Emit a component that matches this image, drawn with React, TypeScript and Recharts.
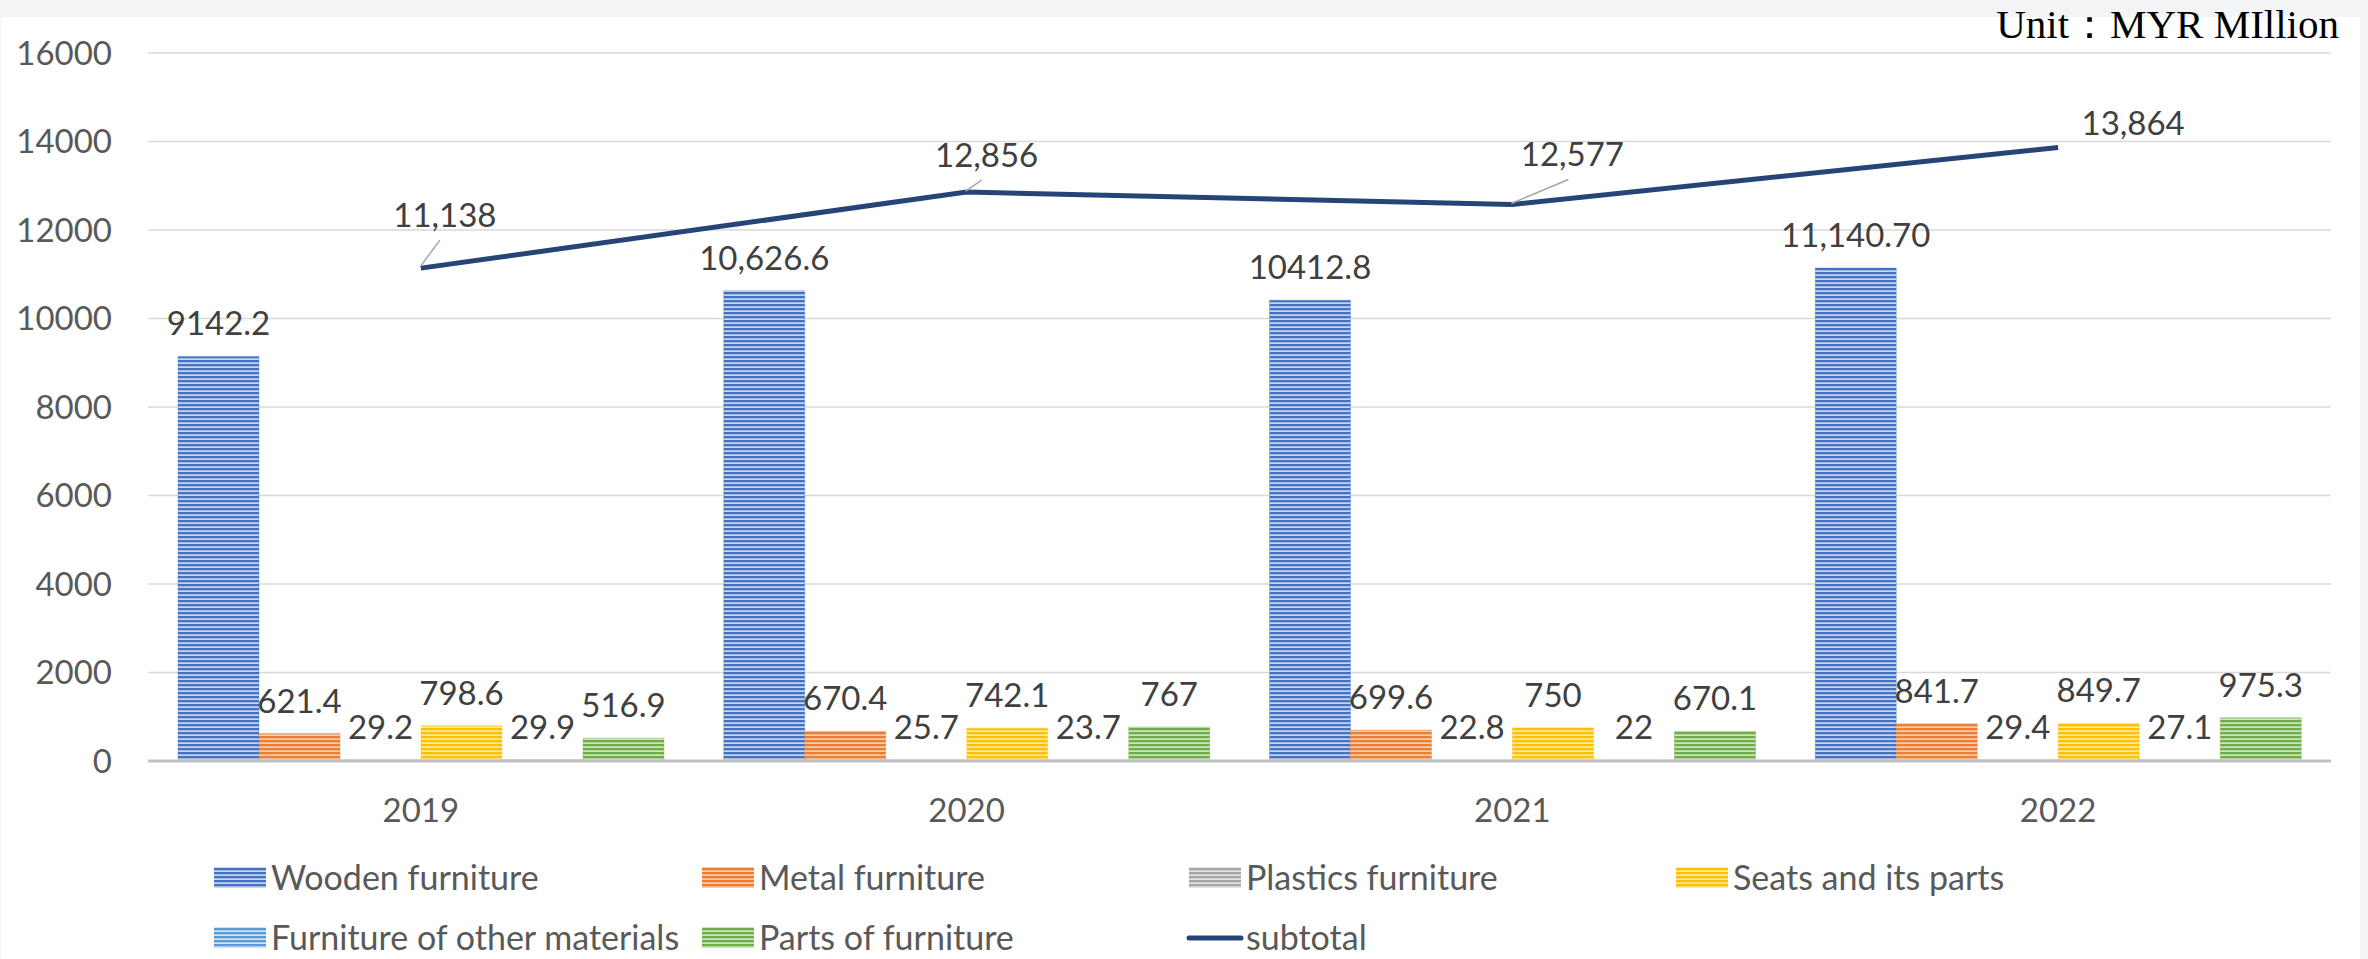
import React from "react";
import {
  ComposedChart,
  Bar,
  Line,
  XAxis,
  YAxis,
  CartesianGrid,
  LabelList,
} from "recharts";

const years = ["2019", "2020", "2021", "2022"];
const wooden = [9142.2, 10626.6, 10412.8, 11140.7];
const woodenLabels = ["9142.2", "10,626.6", "10412.8", "11,140.70"];
const metal = [621.4, 670.4, 699.6, 841.7];
const plastics = [29.2, 25.7, 22.8, 29.4];
const seats = [798.6, 742.1, 750, 849.7];
const otherMaterials = [29.9, 23.7, 22, 27.1];
const parts = [516.9, 767, 670.1, 975.3];
const subtotal = [11138, 12856, 12577, 13864];
const subtotalLabels = ["11,138", "12,856", "12,577", "13,864"];
const yTicks = [0, 2000, 4000, 6000, 8000, 10000, 12000, 14000, 16000];

const data = years.map((year, i) => ({
  year,
  wooden: wooden[i],
  woodenLabel: woodenLabels[i],
  metal: metal[i],
  plastics: plastics[i],
  seats: seats[i],
  otherMaterials: otherMaterials[i],
  parts: parts[i],
  subtotal: subtotal[i],
  subtotalLabel: subtotalLabels[i],
}));

const series = [
  { key: "wooden", name: "Wooden furniture", dark: "#4472C4", light: "#c9d6ef" },
  { key: "metal", name: "Metal furniture", dark: "#ED7D31", light: "#f9cdb0" },
  { key: "plastics", name: "Plastics furniture", dark: "#A5A5A5", light: "#e2e2e2" },
  { key: "seats", name: "Seats and its parts", dark: "#FFC000", light: "#ffe9a3" },
  { key: "otherMaterials", name: "Furniture of other materials", dark: "#5B9BD5", light: "#d0e2f3" },
  { key: "parts", name: "Parts of furniture", dark: "#70AD47", light: "#cfe5c1" },
];

const FONT = "Lato, 'Open Sans', sans-serif";
const LINE_COLOR = "#264478";
const LABEL_SIZE = 33;

// label placement for the subtotal line (relative to the point)
const lineLabelOffsets = [
  { dx: 24, dy: -53, lx: 19, ly: -28, leader: true },
  { dx: 20, dy: -37, lx: 15, ly: -12, leader: true },
  { dx: 60, dy: -50, lx: 56, ly: -25, leader: true },
  { dx: 75, dy: -25, lx: 0, ly: 0, leader: false },
];

const Patterns = ({ prefix }: { prefix: string }) => (
  <defs>
    {series.map((s) => (
      <pattern
        key={s.key}
        id={`${prefix}-${s.key}`}
        patternUnits="userSpaceOnUse"
        width={8}
        height={4}
      >
        <rect x={0} y={0} width={8} height={4} fill={s.light} />
        <rect x={0} y={0} width={8} height={2.3} fill={s.dark} />
      </pattern>
    ))}
  </defs>
);

const LineLabel = (props: any) => {
  const { x, y, index, value } = props;
  const o = lineLabelOffsets[index] || { dx: 0, dy: -20, lx: 0, ly: 0, leader: false };
  return (
    <g>
      {o.leader && (
        <line
          x1={x - 1}
          y1={y - 1}
          x2={x + o.lx}
          y2={y + o.ly}
          stroke="#a6a6a6"
          strokeWidth={1.5}
        />
      )}
      <text
        x={x + o.dx}
        y={y + o.dy + 12}
        textAnchor="middle"
        fill="#404040"
        fontSize={LABEL_SIZE}
        fontFamily={FONT}
      >
        {value}
      </text>
    </g>
  );
};

const legendCols = [214, 702, 1189, 1676];
const legendRows = [878, 938];
const legendItems = [
  { type: "bar", idx: 0, col: 0, row: 0 },
  { type: "bar", idx: 1, col: 1, row: 0 },
  { type: "bar", idx: 2, col: 2, row: 0 },
  { type: "bar", idx: 3, col: 3, row: 0 },
  { type: "bar", idx: 4, col: 0, row: 1 },
  { type: "bar", idx: 5, col: 1, row: 1 },
  { type: "line", idx: -1, col: 2, row: 1 },
];

export default function App() {
  return (
    <div
      style={{
        position: "absolute",
        left: 0,
        top: 0,
        width: 2368,
        height: 959,
        background: "#f3f4f6",
        overflow: "hidden",
      }}
    >
      <div
        style={{
          position: "absolute",
          left: 1,
          top: 17,
          width: 2359,
          height: 942,
          background: "#ffffff",
        }}
      />
      <div style={{ position: "absolute", left: 0, top: 0 }}>
        <ComposedChart
          width={2368}
          height={959}
          data={data}
          margin={{ top: 53, right: 37, bottom: 138, left: 28 }}
          barCategoryGap={30}
          barGap={0}
        >
          <Patterns prefix="pat" />
          <CartesianGrid vertical={false} stroke="#d9d9d9" strokeWidth={1.5} />
          <XAxis
            dataKey="year"
            tickLine={false}
            tickSize={0}
            tickMargin={38}
            height={60}
            axisLine={{ stroke: "#bfbfbf", strokeWidth: 3 }}
            tick={{ fill: "#595959", fontSize: LABEL_SIZE, fontFamily: FONT }}
          />
          <YAxis
            width={120}
            domain={[0, 16000]}
            ticks={yTicks}
            interval={0}
            axisLine={false}
            tickLine={false}
            tickSize={0}
            tickMargin={36}
            tick={{ fill: "#595959", fontSize: LABEL_SIZE, fontFamily: FONT }}
          />
          {series.map((s) => (
            <Bar
              key={s.key}
              dataKey={s.key}
              name={s.name}
              fill={`url(#pat-${s.key})`}
              stroke={s.dark}
              strokeOpacity={0.35}
              strokeWidth={1}
              isAnimationActive={false}
            >
              <LabelList
                dataKey={s.key === "wooden" ? "woodenLabel" : s.key}
                position="top"
                offset={21}
                fill="#404040"
                fontSize={LABEL_SIZE}
                fontFamily={FONT}
              />
            </Bar>
          ))}
          <Line
            type="linear"
            dataKey="subtotal"
            name="subtotal"
            stroke={LINE_COLOR}
            strokeWidth={5}
            dot={false}
            activeDot={false}
            isAnimationActive={false}
          >
            <LabelList dataKey="subtotalLabel" content={<LineLabel />} />
          </Line>
        </ComposedChart>
      </div>
      <svg
        width={2368}
        height={959}
        style={{ position: "absolute", left: 0, top: 0, pointerEvents: "none" }}
      >
        <Patterns prefix="leg" />
        <text
          x={2339}
          y={38}
          textAnchor="end"
          fill="#000000"
          fontSize={41}
          fontFamily="'Liberation Serif', 'Times New Roman', serif"
        >
          Unit：MYR MIllion
        </text>
        {legendItems.map((it, i) => {
          const x = legendCols[it.col];
          const cy = legendRows[it.row];
          const label = it.type === "line" ? "subtotal" : series[it.idx].name;
          return (
            <g key={i}>
              {it.type === "bar" ? (
                <rect
                  x={x}
                  y={cy - 11}
                  width={52}
                  height={21}
                  fill={`url(#leg-${series[it.idx].key})`}
                />
              ) : (
                <line
                  x1={x}
                  y1={cy}
                  x2={x + 52}
                  y2={cy}
                  stroke={LINE_COLOR}
                  strokeWidth={5}
                  strokeLinecap="round"
                />
              )}
              <text
                x={x + 57}
                y={cy + 12}
                fill="#595959"
                fontSize={34}
                fontFamily={FONT}
              >
                {label}
              </text>
            </g>
          );
        })}
      </svg>
    </div>
  );
}
